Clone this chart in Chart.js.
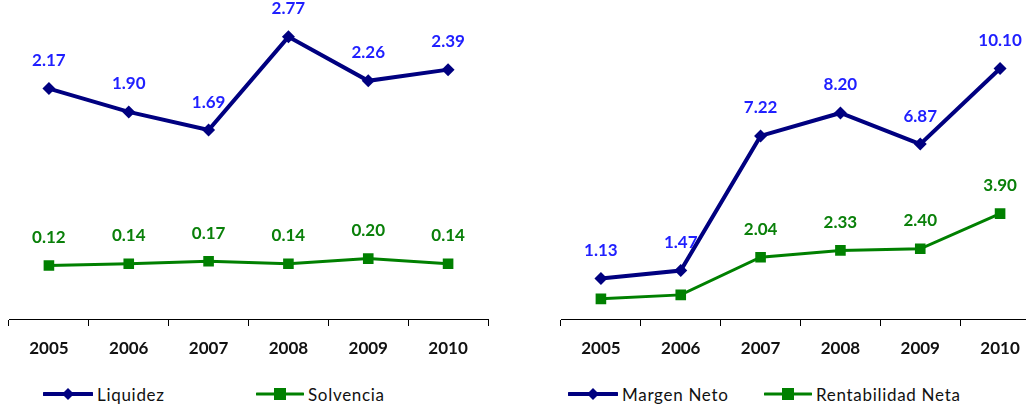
<!DOCTYPE html>
<html>
<head>
<meta charset="utf-8">
<script src="https://cdn.jsdelivr.net/npm/chart.js@4/dist/chart.umd.min.js"></script>
<style>
  html, body { margin: 0; padding: 0; background: #fff; overflow: hidden; }
  body { width: 1026px; height: 405px; position: relative; font-family: Lato, "Open Sans", sans-serif; }
  canvas { position: absolute; top: 0; }
  #leftChart { left: 0; }
  #rightChart { left: 540px; }
  .legend-item { position: absolute; top: 383px; height: 22px; display: flex; align-items: center; font-size: 17px; color: #111; letter-spacing: 0.7px; }
  .legend-item svg { margin-right: 4px; }
</style>
</head>
<body>
<canvas id="leftChart" width="500" height="359"></canvas>
<canvas id="rightChart" width="510" height="359"></canvas>

<div class="legend-item" style="left:43px">
  <svg width="50" height="14"><line x1="1" y1="7" x2="49" y2="7" stroke="#000080" stroke-width="4" stroke-linecap="round"/><polygon points="25,1 31,7 25,13 19,7" fill="#000080"/></svg>Liquidez
</div>
<div class="legend-item" style="left:256px">
  <svg width="48" height="14"><line x1="1" y1="7" x2="47" y2="7" stroke="#008000" stroke-width="3" stroke-linecap="round"/><rect x="18" y="1" width="12" height="12" fill="#008000"/></svg>Solvencia
</div>
<div class="legend-item" style="left:568px">
  <svg width="50" height="14"><line x1="1" y1="7" x2="49" y2="7" stroke="#000080" stroke-width="4" stroke-linecap="round"/><polygon points="25,1 31,7 25,13 19,7" fill="#000080"/></svg>Margen Neto
</div>
<div class="legend-item" style="left:764px">
  <svg width="48" height="14"><line x1="1" y1="7" x2="47" y2="7" stroke="#008000" stroke-width="3" stroke-linecap="round"/><rect x="18" y="1" width="12" height="12" fill="#008000"/></svg>Rentabilidad Neta
</div>

<script>
// Data
const years = ['2005', '2006', '2007', '2008', '2009', '2010'];
const liquidez = [2.17, 1.90, 1.69, 2.77, 2.26, 2.39];
const solvencia = [0.12, 0.14, 0.17, 0.14, 0.20, 0.14];
const margenNeto = [1.13, 1.47, 7.22, 8.20, 6.87, 10.10];
const rentabilidadNeta = [0.26, 0.43, 2.04, 2.33, 2.40, 3.90];
// first two labels are hidden in the original
const rentabilidadLabels = ['', '', '2.04', '2.33', '2.40', '3.90'];

const NAVY = '#000080';
const GREEN = '#008000';
const LABEL_BLUE = '#1f1fff';
const LABEL_GREEN = '#0a800a';

// Draws the value above each point
const valueLabels = {
  id: 'valueLabels',
  afterDatasetsDraw(chart) {
    const ctx = chart.ctx;
    ctx.save();
    ctx.font = 'bold 17px Lato, "Open Sans", sans-serif';
    ctx.textAlign = 'center';
    ctx.textBaseline = 'middle';
    chart.data.datasets.forEach((ds, i) => {
      const meta = chart.getDatasetMeta(i);
      ctx.fillStyle = ds.labelColor;
      meta.data.forEach((pt, j) => {
        const text = ds.labels ? ds.labels[j] : ds.data[j].toFixed(2);
        if (!text) return;
        ctx.fillText(text, pt.x, pt.y - 28);
      });
    });
    ctx.restore();
  }
};

function lineSet(label, data, color, style, labelColor, labels) {
  const diamond = style === 'rectRot';
  return {
    label: label,
    data: data,
    borderColor: color,
    backgroundColor: color,
    borderWidth: diamond ? 4 : 3,
    pointStyle: style,
    pointRadius: diamond ? 6.5 : 7.5,
    pointBorderWidth: 0,
    tension: 0,
    labelColor: labelColor,
    labels: labels
  };
}

function makeChart(id, datasets, yMin, yMax, padding) {
  return new Chart(document.getElementById(id), {
    type: 'line',
    data: { labels: years, datasets: datasets },
    options: {
      responsive: false,
      animation: false,
      layout: { padding: padding },
      plugins: { legend: { display: false }, tooltip: { enabled: false } },
      scales: {
        x: {
          offset: true,
          afterFit: scale => { scale.height = 40; },
          border: { display: true, color: '#000', width: 1 },
          grid: { display: true, drawOnChartArea: false, drawTicks: true, tickLength: 7, color: '#000', offset: true },
          ticks: { color: '#111', padding: 12, font: { family: 'Lato, "Open Sans", sans-serif', size: 17, weight: 'bold' } }
        },
        y: { display: false, min: yMin, max: yMax }
      }
    },
    plugins: [valueLabels]
  });
}

makeChart('leftChart', [
  lineSet('Liquidez', liquidez, NAVY, 'rectRot', LABEL_BLUE),
  lineSet('Solvencia', solvencia, GREEN, 'rect', LABEL_GREEN)
], -0.5, 3, { left: 9, right: 12, top: 17, bottom: 0 });

makeChart('rightChart', [
  lineSet('Margen Neto', margenNeto, NAVY, 'rectRot', LABEL_BLUE),
  lineSet('Rentabilidad Neta', rentabilidadNeta, GREEN, 'rect', LABEL_GREEN, rentabilidadLabels)
], -0.6, 12, { left: 21, right: 10, top: 24, bottom: 0 });
</script>
</body>
</html>
